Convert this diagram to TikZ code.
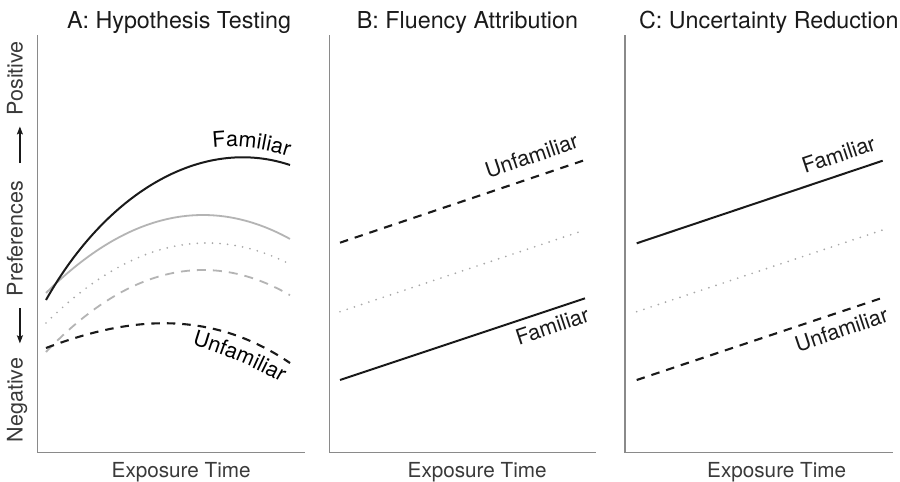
\documentclass[tikz,border=0pt]{standalone}
\usepackage{fontspec}
\setmainfont{TeX Gyre Heros}
\usetikzlibrary{arrows.meta,decorations.text}
\definecolor{axisgray}{HTML}{8A8A8A}
\definecolor{txtgray}{HTML}{3A3A3A}
\definecolor{curvegray}{HTML}{B4B4B4}
\definecolor{dotgray}{HTML}{A8A8A8}
\definecolor{inkblack}{HTML}{1A1A1A}
\newcommand\lblfont{\fontsize{21.5pt}{25pt}\selectfont}
\begin{document}
\begin{tikzpicture}[x=1pt,y=-1pt,
  axisline/.style={draw=axisgray, line width=1.3pt},
  ttl/.style={font=\fontsize{23.3pt}{27pt}\selectfont, text=inkblack, anchor=base, inner sep=0pt},
  xlab/.style={font=\fontsize{20.7pt}{24pt}\selectfont, text=txtgray, anchor=base, inner sep=0pt},
  ylab/.style={font=\fontsize{21.5pt}{25pt}\selectfont, text=txtgray, rotate=90, inner sep=0pt, text height=0.72em, text depth=0.2em},
  yarrow/.style={draw=inkblack, line width=1.4pt, -{Stealth[length=8pt,width=6pt,inset=1.5pt]}},
  famline/.style={draw=inkblack, line width=2pt},
  unfline/.style={draw=inkblack, line width=2.1pt, dash pattern=on 8.5pt off 7pt},
  graysolid/.style={draw=curvegray, line width=1.8pt},
  graydash/.style={draw=curvegray, line width=1.8pt, dash pattern=on 9pt off 7pt},
  dotline/.style={draw=dotgray, line width=1.9pt, line cap=round, dash pattern=on 0pt off 7.6pt},
  lbl/.style={font=\lblfont, text=inkblack, inner xsep=1pt}
]
\useasboundingbox[fill=white] (0,0) rectangle (900,482);

% titles
\node[ttl] (tA) at (179,28) {A: Hypothesis Testing};
\node[ttl] (tB) at (467.5,28) {B: Fluency Attribution};
\node[ttl] (tC) at (768.8,28) {C: Uncertainty Reduction};

% axes
\coordinate (Atop) at (37.7,35);  \coordinate (Aorg) at (37.7,452.7); \coordinate (Aend) at (305,452.7);
\coordinate (Btop) at (329.3,35); \coordinate (Borg) at (329.3,452.7); \coordinate (Bend) at (596,452.7);
\coordinate (Ctop) at (625,35);   \coordinate (Corg) at (625,452.7);   \coordinate (Cend) at (893,452.7);
\draw[axisline] (Atop) -- (Aorg) -- (Aend);
\draw[axisline] (Btop) -- (Borg) -- (Bend);
\draw[axisline] (Ctop) -- (Corg) -- (Cend);

% x labels
\node[xlab] (xA) at (181.2,477.5) {Exposure Time};
\node[xlab] (xB) at (477.2,477.5) {Exposure Time};
\node[xlab] (xC) at (776.7,477.5) {Exposure Time};

% y label
\node[ylab] (neg) at (19.9,400) {Negative};
\node[ylab] (pref) at (19.9,238.5) {Preferences};
\node[ylab] (pos) at (19.9,78.3) {Positive};
\draw[yarrow, shorten <=17.5pt, shorten >=10.8pt] (pref.east) -- (pos.west);
\draw[yarrow, shorten <=11.8pt, shorten >=14.3pt] (pref.west) -- (neg.east);

% panel A curves
\draw[graydash] plot[domain=46:290,samples=60] (\x,{270+(0.05768*(\x-203))^2});
\draw[dotline] plot[domain=46:290,samples=60] (\x,{243+(0.05555*(\x-207))^2});
\draw[graysolid] plot[domain=46:290,samples=60] (\x,{215+(0.05625*(\x-203))^2});
\draw[unfline] (46,348) .. controls (120,320) and (205,305) .. (290,363);
\draw[famline] (46,300) .. controls (105,195) and (200,135) .. (290,165);
\path[decorate, decoration={text along path, text={|\lblfont|Familiar}}]
  (213,148) .. controls (236,145) and (265,148) .. (296,159);
\path[decorate, decoration={text along path, text={|\lblfont|Unfamiliar}}]
  (192,345) .. controls (216,352) and (261,368) .. (293,390);

% panel B lines
\coordinate (bU1) at (340,242.7); \coordinate (bU2) at (585,160);
\coordinate (bD1) at (340,311.7); \coordinate (bD2) at (585,230);
\coordinate (bF1) at (340,380);   \coordinate (bF2) at (585,298.3);
\draw[dotline] (bD1) -- (bD2);
\draw[unfline] (bU1) -- (bU2) node[lbl, pos=1, sloped, anchor=south east, inner ysep=12pt, inner xsep=0pt] (lbU) {Unfamiliar};
\draw[famline] (bF1) -- (bF2) node[lbl, pos=1, sloped, anchor=north east, inner ysep=7pt] (lbF) {Familiar};

% panel C lines
\coordinate (cF1) at (636.7,243.3); \coordinate (cF2) at (882.7,160.7);
\coordinate (cD1) at (636.7,311.7); \coordinate (cD2) at (882.7,230);
\coordinate (cU1) at (636.7,380);   \coordinate (cU2) at (882.7,297.7);
\draw[dotline] (cD1) -- (cD2);
\draw[famline] (cF1) -- (cF2) node[lbl, pos=1, sloped, anchor=south east, inner ysep=10.8pt] (lcF) {Familiar};
\draw[unfline] (cU1) -- (cU2) node[lbl, pos=1, sloped, anchor=north east, inner ysep=8pt, inner xsep=0pt] (lcU) {Unfamiliar};
\end{tikzpicture}
\end{document}
